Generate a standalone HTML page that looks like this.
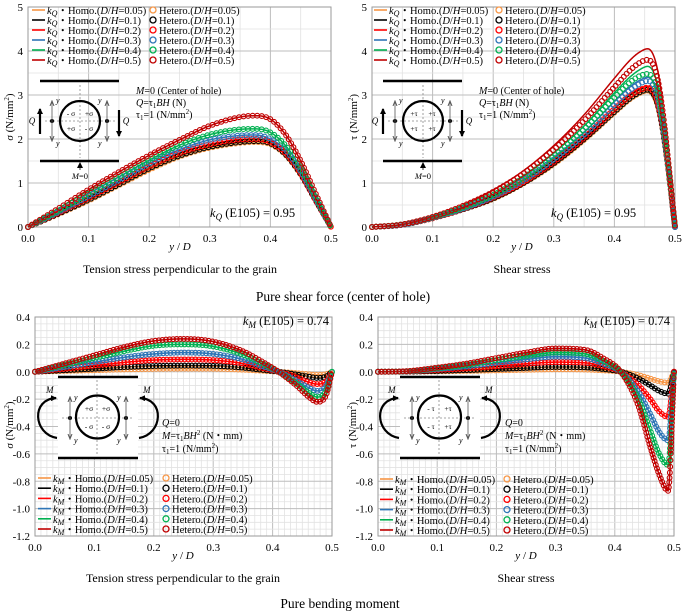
<!DOCTYPE html>
<html><head><meta charset="utf-8"><style>
body{margin:0;background:#fff}
svg{display:block;font-family:"Liberation Serif",serif}
</style></head><body>
<svg id="fig" width="685" height="615" viewBox="0 0 685 615" xmlns="http://www.w3.org/2000/svg">
<g id="layer"></g>
</svg>
<script>
// ---------- data ----------
const seriesLabels = ["0.05","0.1","0.2","0.3","0.4","0.5"];
const seriesColors = ["#f79646","#000000","#ff0000","#2e75b6","#00b050","#c00000"];
const xTicks = [0,0.1,0.2,0.3,0.4,0.5];
const xTickLabels = ["0.0","0.1","0.2","0.3","0.4","0.5"];
const yTicksTop = [0,1,2,3,4,5];
const yTickLabelsTop = ["0","1","2","3","4","5"];
const yTicksBot = [0.4,0.2,0,-0.2,-0.4,-0.6,-0.8,-1.0,-1.2];
const yTickLabelsBot = ["0.4","0.2","0.0","-0.2","-0.4","-0.6","-0.8","-1.0","-1.2"];

// top-left: sigma, pure shear
const xsTL = [0,0.05,0.1,0.15,0.2,0.25,0.3,0.35,0.375,0.4,0.425,0.45,0.475,0.5];
const homoTL = [
 [0,0.29,0.6,0.95,1.3,1.6,1.8,1.91,1.93,1.88,1.64,1.19,0.6,0],
 [0,0.3,0.62,0.97,1.33,1.62,1.82,1.93,1.95,1.9,1.65,1.2,0.6,0],
 [0,0.32,0.66,1.02,1.38,1.68,1.88,1.99,2.0,1.93,1.68,1.22,0.6,0],
 [0,0.34,0.7,1.07,1.44,1.76,1.98,2.08,2.09,2.0,1.75,1.27,0.63,0],
 [0,0.37,0.76,1.14,1.52,1.86,2.1,2.22,2.23,2.15,1.85,1.35,0.67,0],
 [0,0.42,0.85,1.25,1.63,1.98,2.3,2.5,2.53,2.45,2.1,1.5,0.75,0]];
const hetTL = homoTL;

// top-right: tau, pure shear
const xsTR = [0,0.05,0.1,0.15,0.2,0.25,0.3,0.35,0.4,0.425,0.44,0.455,0.47,0.48,0.49,0.5];
const homoTR = [
 [0,0.05,0.2,0.4,0.64,0.99,1.43,1.98,2.6,2.9,3.03,3.1,2.83,2.2,1.2,0],
 [0,0.05,0.2,0.4,0.65,1.0,1.45,2.0,2.62,2.92,3.05,3.12,2.85,2.2,1.2,0],
 [0,0.05,0.2,0.41,0.67,1.03,1.5,2.05,2.7,3.0,3.13,3.2,2.92,2.25,1.22,0],
 [0,0.05,0.21,0.43,0.7,1.08,1.57,2.15,2.85,3.18,3.32,3.4,3.1,2.35,1.25,0],
 [0,0.06,0.22,0.45,0.75,1.15,1.68,2.3,3.05,3.4,3.56,3.65,3.3,2.5,1.3,0],
 [0,0.06,0.24,0.5,0.84,1.28,1.85,2.55,3.38,3.78,3.96,4.05,3.65,2.75,1.4,0]];
const hetTR = [
 [0,0.05,0.2,0.4,0.64,0.99,1.43,1.98,2.6,2.9,3.03,3.1,2.83,2.2,1.2,0],
 [0,0.05,0.2,0.4,0.65,1.0,1.45,2.0,2.62,2.92,3.05,3.12,2.85,2.2,1.2,0],
 [0,0.05,0.2,0.41,0.67,1.02,1.48,2.03,2.68,2.98,3.1,3.17,2.9,2.24,1.21,0],
 [0,0.05,0.21,0.42,0.69,1.06,1.54,2.1,2.78,3.1,3.24,3.32,3.03,2.3,1.23,0],
 [0,0.06,0.22,0.44,0.73,1.12,1.63,2.22,2.94,3.28,3.42,3.48,3.17,2.4,1.27,0],
 [0,0.06,0.23,0.48,0.8,1.22,1.76,2.42,3.18,3.55,3.72,3.8,3.45,2.6,1.35,0]];

// bottom-left: sigma, pure bending
const xsBL = [0,0.05,0.1,0.15,0.2,0.25,0.3,0.35,0.38,0.41,0.44,0.46,0.475,0.49,0.5];
const homoBL = [
 [0,0.006,0.011,0.017,0.021,0.023,0.022,0.015,0.008,0,-0.01,-0.018,-0.023,-0.018,0],
 [0,0.011,0.022,0.034,0.042,0.045,0.043,0.03,0.015,0,-0.02,-0.035,-0.045,-0.035,0],
 [0,0.022,0.045,0.068,0.085,0.09,0.085,0.06,0.03,0,-0.04,-0.075,-0.09,-0.07,0],
 [0,0.035,0.07,0.105,0.13,0.14,0.13,0.09,0.045,0,-0.065,-0.115,-0.14,-0.105,0],
 [0,0.05,0.1,0.15,0.19,0.2,0.185,0.125,0.065,0,-0.085,-0.15,-0.185,-0.14,0],
 [0,0.06,0.12,0.18,0.225,0.24,0.22,0.15,0.08,0,-0.1,-0.18,-0.22,-0.17,0]];
const hetBL = homoBL;

// bottom-right: tau, pure bending
const xsBR = [0,0.05,0.1,0.15,0.2,0.25,0.3,0.35,0.38,0.41,0.44,0.46,0.475,0.49,0.5];
const homoBR = [
 [0,0.001,0.003,0.006,0.01,0.014,0.018,0.016,0.01,0,-0.025,-0.05,-0.07,-0.08,0],
 [0,0.001,0.006,0.012,0.02,0.028,0.035,0.032,0.02,0,-0.05,-0.1,-0.14,-0.16,0],
 [0,0.002,0.013,0.025,0.04,0.058,0.07,0.065,0.04,0,-0.1,-0.2,-0.29,-0.33,0],
 [0,0.003,0.02,0.04,0.065,0.09,0.11,0.1,0.06,0,-0.15,-0.31,-0.44,-0.5,0],
 [0,0.004,0.025,0.05,0.085,0.115,0.14,0.13,0.08,0,-0.2,-0.43,-0.6,-0.68,0],
 [0,0.005,0.03,0.06,0.1,0.14,0.17,0.16,0.1,0,-0.25,-0.55,-0.75,-0.87,0]];
const hetBR = homoBR;

// ---------- helpers ----------
const NS="http://www.w3.org/2000/svg";
const layer=document.getElementById('layer');
function mk(tag,attrs,parent){const e=document.createElementNS(NS,tag);for(const k in attrs)e.setAttribute(k,attrs[k]);(parent||layer).appendChild(e);return e;}
function monotone(xs,ys){
 const n=xs.length,d=[],m=new Array(n);
 for(let i=0;i<n-1;i++)d.push((ys[i+1]-ys[i])/(xs[i+1]-xs[i]));
 m[0]=d[0];m[n-1]=d[n-2];
 for(let i=1;i<n-1;i++){m[i]=(d[i-1]*d[i]<=0)?0:(d[i-1]+d[i])/2;}
 for(let i=0;i<n-1;i++){if(d[i]===0){m[i]=0;m[i+1]=0;continue;}const a=m[i]/d[i],b=m[i+1]/d[i],s=a*a+b*b;if(s>9){const t=3/Math.sqrt(s);m[i]=t*a*d[i];m[i+1]=t*b*d[i];}}
 return function(x){let i=0;while(i<n-2&&x>xs[i+1])i++;const h=xs[i+1]-xs[i],t=(x-xs[i])/h,t2=t*t,t3=t2*t;
  return (2*t3-3*t2+1)*ys[i]+(t3-2*t2+t)*h*m[i]+(-2*t3+3*t2)*ys[i+1]+(t3-t2)*h*m[i+1];};
}

function panel(cfg){
 const g=mk('g',{});
 
 
 const sx=v=>cfg.x0+(v-0)/(0.5)*(cfg.x1-cfg.x0);
 const sy=v=>cfg.yB+(v-cfg.ymin)/(cfg.ymax-cfg.ymin)*(cfg.yT-cfg.yB);
 const grid=mk('g',{},g);
 
 
 for(let k=0;k<=Math.round(0.5/cfg.mvx);k++){const v=k*cfg.mvx;const x=sx(v);
  const major=Math.abs(v*10-Math.round(v*10))<1e-6;
  mk('line',{x1:x,x2:x,y1:cfg.yT,y2:cfg.yB,stroke:major?'#bdbdbd':'#e2e2e2','stroke-width':major?1:0.8},grid);}
 for(let k=0;k<=Math.round((cfg.ymax-cfg.ymin)/cfg.mhy);k++){const v=cfg.ymin+k*cfg.mhy;const y=sy(v);
  const major=Math.abs(v/cfg.majY-Math.round(v/cfg.majY))<1e-6;
  mk('line',{x1:cfg.x0,x2:cfg.x1,y1:y,y2:y,stroke:major?'#bdbdbd':'#e2e2e2','stroke-width':major?1:0.8},grid);}
 mk('rect',{x:cfg.x0,y:cfg.yT,width:cfg.x1-cfg.x0,height:cfg.yB-cfg.yT,fill:'none',stroke:'#9a9a9a','stroke-width':1},g);
 xTicks.forEach((v,i)=>{const t=mk('text',{x:sx(v),y:cfg.yB+15,'text-anchor':'middle','font-size':11},g);t.textContent=xTickLabels[i];
  });
 cfg.yTicks.forEach((v,i)=>{const t=mk('text',{x:cfg.x0-5,y:sy(v)+4,'text-anchor':'end','font-size':11},g);t.textContent=cfg.yLabels[i];
  });
 cfg.homo.forEach((ys,si)=>{
  const f=monotone(cfg.xs,ys);let d='';
  for(let k=0;k<=500;k++){const x=k*0.001;d+=(k?'L':'M')+sx(x).toFixed(2)+','+sy(f(x)).toFixed(2);}
  const p=mk('path',{d:d,fill:'none',stroke:seriesColors[si],'stroke-width':1.5},g);
  
  
 });
 cfg.het.forEach((ys,si)=>{
  const f=monotone(cfg.xs,ys);const cg=mk('g',{},g);
  
  
  let px=sx(0),py=sy(f(0)),acc=cfg.step;
  for(let k=0;k<=2000;k++){const x=k*0.00025;const X=sx(x),Y=sy(f(x));acc+=Math.hypot(X-px,Y-py);px=X;py=Y;
   if(acc>=cfg.step){acc=0;mk('circle',{cx:X,cy:Y,r:2.4,fill:'none',stroke:seriesColors[si],'stroke-width':1.1},cg);}}
 });
 return {g,sx,sy};
}

const TL=panel({name:'chart-shear-sigma',x0:28,x1:331,yT:7,yB:227,ymin:0,ymax:5,mvx:0.05,mhy:0.5,majY:1,yTicks:yTicksTop,yLabels:yTickLabelsTop,xs:xsTL,homo:homoTL,het:hetTL,step:4.5});
const TR=panel({name:'chart-shear-tau',x0:372,x1:675,yT:7,yB:227,ymin:0,ymax:5,mvx:0.05,mhy:0.5,majY:1,yTicks:yTicksTop,yLabels:yTickLabelsTop,xs:xsTR,homo:homoTR,het:hetTR,step:4});
const BL=panel({name:'chart-bending-sigma',x0:35,x1:332,yT:317,yB:536,ymin:-1.2,ymax:0.4,mvx:0.01,mhy:0.05,majY:0.2,yTicks:yTicksBot,yLabels:yTickLabelsBot,xs:xsBL,homo:homoBL,het:hetBL,step:3.5});
const BR=panel({name:'chart-bending-tau',x0:378,x1:674,yT:317,yB:536,ymin:-1.2,ymax:0.4,mvx:0.01,mhy:0.05,majY:0.2,yTicks:yTicksBot,yLabels:yTickLabelsBot,xs:xsBR,homo:homoBR,het:hetBR,step:3.5});

function legend(x0,y0,dy,xc,sym){
 const lg=mk('g',{});
 
 
 seriesLabels.forEach((s,i)=>{const y=y0+i*dy;
  const e=mk('g',{},lg);
  
  
  mk('line',{x1:x0,x2:x0+13,y1:y,y2:y,stroke:seriesColors[i],'stroke-width':1.6},e);
  const t=mk('text',{x:x0+15,y:y+4,'font-size':10.5},e);
  t.innerHTML='<tspan font-style="italic">k</tspan><tspan font-style="italic" font-size="8" dy="2">'+sym+'</tspan><tspan dy="-2">・Homo.(</tspan><tspan font-style="italic">D</tspan>/<tspan font-style="italic">H</tspan>='+s+')';
  mk('circle',{cx:xc,cy:y,r:3,fill:'none',stroke:seriesColors[i],'stroke-width':1.3},e);
  const t2=mk('text',{x:xc+6,y:y+4,'font-size':10.5},e);
  t2.innerHTML='Hetero.(<tspan font-style="italic">D</tspan>/<tspan font-style="italic">H</tspan>='+s+')';
 });
}
legend(32,10,10,153,'Q');
legend(374,10,10,499,'Q');
legend(38,478,10.2,166,'M');
legend(380,479,10.2,507,'M');

function txt(x,y,html,attrs,name){const t=mk('text',Object.assign({x:x,y:y,'font-size':11},attrs||{}));t.innerHTML=html;
 return t;}

txt(180,250,'<tspan font-style="italic">y</tspan> / <tspan font-style="italic">D</tspan>',{'text-anchor':'middle'},'x-axis-title');
txt(522,250,'<tspan font-style="italic">y</tspan> / <tspan font-style="italic">D</tspan>',{'text-anchor':'middle'},'x-axis-title');
txt(183,559,'<tspan font-style="italic">y</tspan> / <tspan font-style="italic">D</tspan>',{'text-anchor':'middle'},'x-axis-title');
txt(526,559,'<tspan font-style="italic">y</tspan> / <tspan font-style="italic">D</tspan>',{'text-anchor':'middle'},'x-axis-title');
txt(0,0,'<tspan font-style="italic">σ</tspan> (N/mm<tspan font-size="7" dy="-4">2</tspan><tspan dy="4">)</tspan>',{'text-anchor':'middle',transform:'translate(13,117) rotate(-90)'},'y-axis-title');
txt(0,0,'τ (N/mm<tspan font-size="7" dy="-4">2</tspan><tspan dy="4">)</tspan>',{'text-anchor':'middle',transform:'translate(357,117) rotate(-90)'},'y-axis-title');
txt(0,0,'<tspan font-style="italic">σ</tspan> (N/mm<tspan font-size="7" dy="-4">2</tspan><tspan dy="4">)</tspan>',{'text-anchor':'middle',transform:'translate(13,425) rotate(-90)'},'y-axis-title');
txt(0,0,'τ (N/mm<tspan font-size="7" dy="-4">2</tspan><tspan dy="4">)</tspan>',{'text-anchor':'middle',transform:'translate(356,425) rotate(-90)'},'y-axis-title');
txt(180,273,'Tension stress perpendicular to the grain',{'text-anchor':'middle','font-size':12},'caption');
txt(522,273,'Shear stress',{'text-anchor':'middle','font-size':12},'caption');
txt(343,301,'Pure shear force (center of hole)',{'text-anchor':'middle','font-size':13.5},'section-title');
txt(183,582,'Tension stress perpendicular to the grain',{'text-anchor':'middle','font-size':12},'caption');
txt(526,582,'Shear stress',{'text-anchor':'middle','font-size':12},'caption');
txt(340,608,'Pure bending moment',{'text-anchor':'middle','font-size':13.5},'section-title');
txt(210,217,'<tspan font-style="italic">k</tspan><tspan font-style="italic" font-size="9" dy="3">Q</tspan><tspan dy="-3"> (E105) = 0.95</tspan>',{'font-size':12.5},'k-factor-label');
txt(551,217,'<tspan font-style="italic">k</tspan><tspan font-style="italic" font-size="9" dy="3">Q</tspan><tspan dy="-3"> (E105) = 0.95</tspan>',{'font-size':12.5},'k-factor-label');
txt(329,325,'<tspan font-style="italic">k</tspan><tspan font-style="italic" font-size="9" dy="3">M</tspan><tspan dy="-3"> (E105) = 0.74</tspan>',{'font-size':12.5,'text-anchor':'end'},'k-factor-label');
txt(670,325,'<tspan font-style="italic">k</tspan><tspan font-style="italic" font-size="9" dy="3">M</tspan><tspan dy="-3"> (E105) = 0.74</tspan>',{'font-size':12.5,'text-anchor':'end'},'k-factor-label');
function shearNote(x){
 txt(x,94,'<tspan font-style="italic">M</tspan>=0 (Center of hole)',{'font-size':10},'load-note');
 txt(x,106,'<tspan font-style="italic">Q</tspan>=τ<tspan font-size="7" dy="2">1</tspan><tspan dy="-2" font-style="italic">BH</tspan> (N)',{'font-size':10},'load-note');
 txt(x,118,'τ<tspan font-size="7" dy="2">1</tspan><tspan dy="-2">=1 (N/mm</tspan><tspan font-size="7" dy="-4">2</tspan><tspan dy="4">)</tspan>',{'font-size':10},'load-note');
}
shearNote(136);shearNote(479);
function bendNote(x){
 txt(x,426,'<tspan font-style="italic">Q</tspan>=0',{'font-size':10},'load-note');
 txt(x,439,'<tspan font-style="italic">M</tspan>=τ<tspan font-size="7" dy="2">1</tspan><tspan dy="-2" font-style="italic">BH</tspan><tspan font-size="7" dy="-4">2</tspan><tspan dy="4"> (N・mm)</tspan>',{'font-size':10},'load-note');
 txt(x,452,'τ<tspan font-size="7" dy="2">1</tspan><tspan dy="-2">=1 (N/mm</tspan><tspan font-size="7" dy="-4">2</tspan><tspan dy="4">)</tspan>',{'font-size':10},'load-note');
}
bendNote(162);bendNote(505);

const defs=mk('defs',{});
const mkr=mk('marker',{id:'ah',markerWidth:6,markerHeight:6,refX:5,refY:3,orient:'auto',markerUnits:'userSpaceOnUse'},defs);
mk('path',{d:'M0,0 L6,3 L0,6 z',fill:'#000'},mkr);
const mkr2=mk('marker',{id:'ahg',markerWidth:6,markerHeight:6,refX:5,refY:3,orient:'auto',markerUnits:'userSpaceOnUse'},defs);
mk('path',{d:'M0,1 L5,3 L0,5',fill:'none',stroke:'#555'},mkr2);

function shearInset(dx,signs){
 const g=mk('g',{transform:'translate('+dx+',0)'});
 
 
 mk('line',{x1:40,x2:119,y1:81,y2:81,stroke:'#000','stroke-width':2.5},g);
 mk('line',{x1:40,x2:119,y1:161,y2:161,stroke:'#000','stroke-width':2.5},g);
 mk('line',{x1:80,x2:80,y1:85,y2:158,stroke:'#888','stroke-dasharray':'2,2','stroke-width':0.8},g);
 mk('line',{x1:45,x2:115,y1:121,y2:121,stroke:'#888','stroke-dasharray':'2,2','stroke-width':0.8},g);
 mk('circle',{cx:80,cy:121,r:20,fill:'none',stroke:'#000','stroke-width':2.2},g);
 [52,107].forEach(x=>{mk('circle',{cx:x,cy:121,r:2,fill:'#000'},g);
  mk('line',{x1:x,x2:x,y1:121,y2:101,stroke:'#555','stroke-width':0.8,'marker-end':'url(#ahg)'},g);
  mk('line',{x1:x,x2:x,y1:121,y2:141,stroke:'#555','stroke-width':0.8,'marker-end':'url(#ahg)'},g);
 });
 txt(56+dx,103,'<tspan font-style="italic">y</tspan>',{'font-size':8},'y-label');
 txt(56+dx,146,'<tspan font-style="italic">y</tspan>',{'font-size':8},'y-label');
 txt(98+dx,103,'<tspan font-style="italic">y</tspan>',{'font-size':8},'y-label');
 txt(98+dx,146,'<tspan font-style="italic">y</tspan>',{'font-size':8},'y-label');
 mk('line',{x1:40,x2:40,y1:134,y2:109,stroke:'#000','stroke-width':2.2,'marker-end':'url(#ah)'},g);
 mk('line',{x1:119,x2:119,y1:110,y2:136,stroke:'#000','stroke-width':2.2,'marker-end':'url(#ah)'},g);
 const pos=[[71,116],[89,116],[71,131],[89,131]];
 pos.forEach((p,i)=>{txt(p[0]+dx,p[1],signs[i],{'font-size':7.5,'text-anchor':'middle'},'stress-sign');});
 txt(32+dx,124,'<tspan font-style="italic">Q</tspan>',{'font-size':9,'text-anchor':'middle'},'q-label');
 txt(126+dx,124,'<tspan font-style="italic">Q</tspan>',{'font-size':9,'text-anchor':'middle'},'q-label');
 mk('line',{x1:80,x2:80,y1:170,y2:163,stroke:'#000','stroke-width':0.8,'marker-end':'url(#ah)'},g);
 txt(80+dx,179,'<tspan font-style="italic">M</tspan>=0',{'font-size':8.5,'text-anchor':'middle'},'m-zero-label');
}
shearInset(0,['- σ','+σ','+σ','- σ']);
shearInset(343,['+τ','+τ','+τ','+τ']);

function bendInset(dx,signs){
 const g=mk('g',{transform:'translate('+dx+',0)'});
 
 
 mk('rect',{x:58,y:376,width:80,height:83,fill:'#fff'},g);
 mk('line',{x1:58,x2:138,y1:377,y2:377,stroke:'#000','stroke-width':2.5},g);
 mk('line',{x1:58,x2:138,y1:458,y2:458,stroke:'#000','stroke-width':2.5},g);
 mk('line',{x1:97,x2:97,y1:380,y2:455,stroke:'#888','stroke-dasharray':'2,2','stroke-width':0.8},g);
 mk('line',{x1:62,x2:133,y1:418,y2:418,stroke:'#888','stroke-dasharray':'2,2','stroke-width':0.8},g);
 mk('circle',{cx:97.5,cy:417,r:21.5,fill:'none',stroke:'#000','stroke-width':2.2},g);
 [70,126].forEach(x=>{mk('circle',{cx:x,cy:418,r:2,fill:'#000'},g);
  mk('line',{x1:x,x2:x,y1:418,y2:397,stroke:'#555','stroke-width':0.8,'marker-end':'url(#ahg)'},g);
  mk('line',{x1:x,x2:x,y1:418,y2:439,stroke:'#555','stroke-width':0.8,'marker-end':'url(#ahg)'},g);
 });
 txt(74+dx,400,'<tspan font-style="italic">y</tspan>',{'font-size':8},'y-label');
 txt(74+dx,443,'<tspan font-style="italic">y</tspan>',{'font-size':8},'y-label');
 txt(117+dx,400,'<tspan font-style="italic">y</tspan>',{'font-size':8},'y-label');
 txt(117+dx,443,'<tspan font-style="italic">y</tspan>',{'font-size':8},'y-label');
 mk('path',{d:'M57,438 C33,434 31,399 56,398',fill:'none',stroke:'#000','stroke-width':2.2,'marker-end':'url(#ah)'},g);
 mk('path',{d:'M139,438 C163,434 165,399 140,398',fill:'none',stroke:'#000','stroke-width':2.2,'marker-end':'url(#ah)'},g);
 txt(46+dx,393,'<tspan font-style="italic">M</tspan>',{'font-size':9},'m-label');
 txt(143+dx,393,'<tspan font-style="italic">M</tspan>',{'font-size':9},'m-label');
 const pos=[[89,411],[106,411],[89,429],[106,429]];
 pos.forEach((p,i)=>{txt(p[0]+dx,p[1],signs[i],{'font-size':7.5,'text-anchor':'middle'},'stress-sign');});
}
bendInset(0,['+σ','+σ','- σ','- σ']);
bendInset(342,['- τ','+τ','- τ','+τ']);
</script>
</body></html>
